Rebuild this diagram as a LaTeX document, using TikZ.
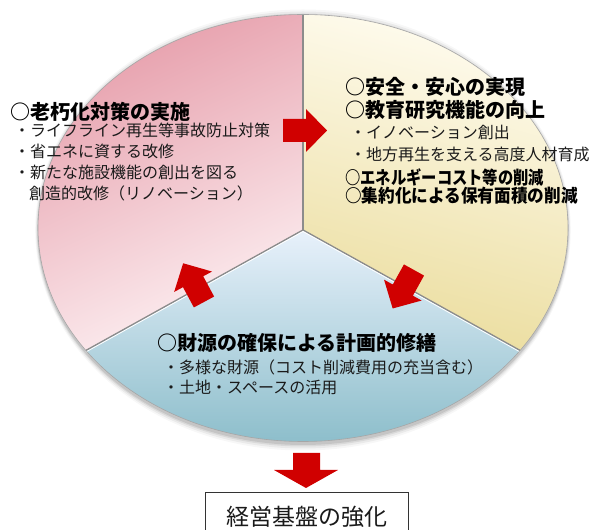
\documentclass[tikz,border=0pt]{standalone}
\usepackage{fontspec}
\newfontfamily\jp{Noto Sans CJK JP}
\definecolor{pinkD}{HTML}{E69DAA}
\definecolor{pinkL}{HTML}{FDF1F3}
\definecolor{yelD}{HTML}{EBDD9E}
\definecolor{yelL}{HTML}{FFFCF0}
\definecolor{bluD}{HTML}{8BBDCA}
\definecolor{bluL}{HTML}{E8F1FB}
\definecolor{arrowred}{HTML}{D00000}
\definecolor{txtc}{HTML}{1A1A1A}
\tikzset{
  blockarrow/.pic={\fill[arrowred] (0,-11.5) -- (23,-11.5) -- (23,-21.5) -- (44,0) -- (23,21.5) -- (23,11.5) -- (0,11.5) -- cycle;},
  txt/.style={anchor=west, inner sep=0pt, text=txtc, font=\jp\fontsize{16}{16}\selectfont},
  ttl/.style={anchor=west, inner sep=0pt, text=black, font=\jp\bfseries\fontsize{20}{20}\selectfont},
  ttlsmall/.style={anchor=west, inner sep=0pt, text=black, font=\jp\bfseries\fontsize{18}{18}\selectfont},
  divline/.style={draw=black!45, line width=1.4pt},
}
\begin{document}
\begin{tikzpicture}[x=1pt,y=1pt]
\useasboundingbox (0,0) rectangle (598,530);
\clip (0,0) rectangle (598,530);
\coordinate (E) at (303,302);
\coordinate (D) at (303,300);
% soft shadow
\foreach \r/\o in {7/0.03,5/0.05,3/0.07,1.5/0.09}
  \fill[black,opacity=\o] (303,300) ellipse [x radius=265+0.4*\r, y radius=213.5+\r];
% sectors
\shade[top color=pinkD, bottom color=pinkL, shading angle=25]
  (D) -- ([shift={(E)}]90:265 and 213.5) arc[start angle=90, end angle=215, x radius=265, y radius=213.5] -- cycle;
\shade[left color=yelL, right color=yelD, shading angle=-15]
  (D) -- ([shift={(E)}]90:265 and 213.5) arc[start angle=90, end angle=-35, x radius=265, y radius=213.5] -- cycle;
\shade[top color=bluL, bottom color=bluD]
  (D) -- ([shift={(E)}]215:265 and 213.5) arc[start angle=215, end angle=325, x radius=265, y radius=213.5] -- cycle;
% divisions
\draw[divline] (D) -- ([shift={(E)}]90:265 and 213.5);
\draw[divline] (D) -- ([shift={(E)}]215:265 and 213.5);
\draw[divline] (D) -- ([shift={(E)}]325:265 and 213.5);
\draw[white, line width=0.8pt] ([yshift=-1.5pt]D) -- ([shift={(E)},yshift=-1.5pt]215:265 and 213.5);
\draw[white, line width=0.8pt] ([yshift=-1.5pt]D) -- ([shift={(E)},yshift=-1.5pt]325:265 and 213.5);
\draw[black!35, line width=0.6pt] (E) ellipse [x radius=265, y radius=213.5];
% circular arrows
\pic at (283,399.5) {blockarrow};
\pic[rotate=241] at (414,260) {blockarrow};
\pic[rotate=118.3] at (204,228) {blockarrow};
% pink text
\node[ttl] (p0) at (10,418) {○老朽化対策の実施};
\node[txt] (p1) at (14,400) {・ライフライン再生等事故防止対策};
\node[txt] (p2) at (14,379) {・省エネに資する改修};
\node[txt] (p3) at (14,358) {・新たな施設機能の創出を図る};
\node[txt] (p4) at (29,337) {創造的改修（リノベーション）};
% yellow text
\node[ttl] (y0) at (345,443) {○安全・安心の実現};
\node[ttl] (y1) at (345,420) {○教育研究機能の向上};
\node[txt] (y2) at (350,398) {・イノベーション創出};
\node[txt] (y3) at (350,376) {・地方再生を支える高度人材育成};
\node[ttlsmall] (y4) at (345,353) {\scalebox{0.85}[1]{○エネルギーコスト等の削減}};
\node[ttlsmall] (y5) at (345,334) {\scalebox{0.925}[1]{○集約化による保有面積の削減}};
% blue text
\node[ttl] (b0) at (157,187) {○財源の確保による計画的修繕};
\node[txt] (b1) at (163,163) {・多様な財源（コスト削減費用の充当含む）};
\node[txt] (b2) at (163,143) {・土地・スペースの活用};
% down arrow and result box
\fill[arrowred] (293,77) -- (320,77) -- (320,60) -- (338,60) -- (306,42) -- (274,60) -- (293,60) -- cycle;
\node[draw=black!80, line width=0.8pt, minimum width=203pt, minimum height=50pt, inner sep=0pt,
      text=txtc, font=\jp\fontsize{23}{23}\selectfont] (goal) at (306.5,13) {経営基盤の強化};
\end{tikzpicture}
\end{document}
